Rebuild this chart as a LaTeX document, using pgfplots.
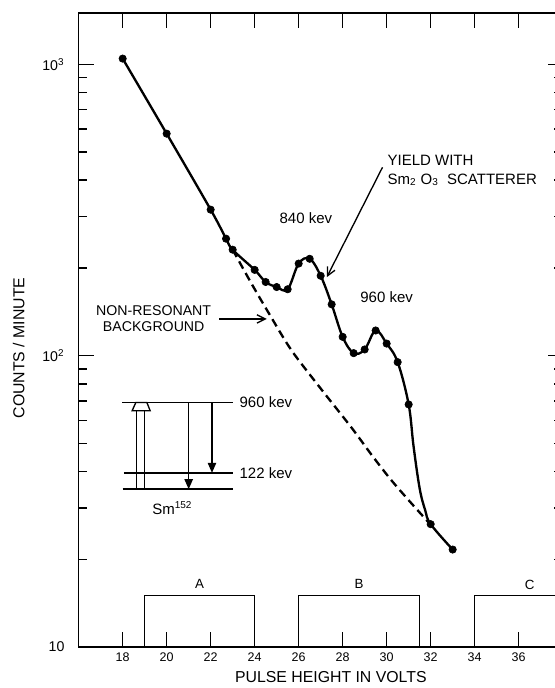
\documentclass[border=0pt]{standalone}
\usepackage{fontspec}
\setmainfont{Liberation Sans}
\usepackage{pgfplots}
\usepackage{pgfplotstable}
\pgfplotsset{compat=1.18}
\usetikzlibrary{arrows.meta}

% measured points (pulse height, counts/minute)
\pgfplotstableread{
x y
18 1046
20 578
22 317
22.7 252
23 231
24 197
24.5 179
25 172
25.5 169
26 207
26.5 215
27 188
27.5 150
28 116
28.5 102
29 105
29.5 122
30 110
30.5 95
31 68
32 26.4
33 21.6
}\yield

% drawn curve through the points (extra readings where it bends)
\pgfplotstableread{
x y
18 1046
20 578
22 317
22.7 252
23 231
24 197
24.5 179
25 172
25.5 169
26 207
26.5 215
27 188
27.5 150
28 116
28.5 102
29 105
29.5 122
30 110
30.5 95
31 68
31.22 49
31.5 35
31.75 29.5
32 26.4
33 21.6
}\yieldcurve

% non-resonant background (dashed)
\pgfplotstableread{
x y
23 231
23.87 176
24.64 140
25.67 104.4
27.02 76.8
28.38 56.9
29.32 45.6
30.17 37.7
31.08 31.4
31.94 26.6
}\background

\begin{document}
\begin{tikzpicture}
\begin{axis}[
    scale only axis,
    width=290.4pt, height=380.4pt,
    xmin=16, xmax=38,
    ymode=log, ymin=10, ymax=1500,
    axis line style={line width=1pt},
    tick align=inside,
    major tick length=9pt, minor tick length=5pt,
    every tick/.style={black, line width=0.9pt},
    xtick={18,20,...,36},
    ytick={10,100,1000},
    yticklabels={10, 10\textsuperscript{2}, 10\textsuperscript{3}},
    minor ytick={20,30,...,90,200,300,...,900},
    /pgf/number format/assume math mode=true,
    xticklabel style={font=\fontsize{7.5}{9}\selectfont},
    yticklabel style={font=\fontsize{8.5}{10}\selectfont, xshift=-5pt},
    xlabel={PULSE HEIGHT IN VOLTS},
    ylabel={COUNTS / MINUTE},
    xlabel style={at={(axis description cs:0.521,-0.0473)}, anchor=center,
        font=\fontsize{9.5}{11}\selectfont},
    ylabel style={at={(axis description cs:-0.124,0.4716)}, anchor=center,
        font=\fontsize{9.5}{11}\selectfont},
]
% windows A, B, C
\addplot[black, line width=0.9pt] coordinates {(19,10) (19,15) (24,15) (24,10)};
\addplot[black, line width=0.9pt] coordinates {(26,10) (26,15) (31.5,15) (31.5,10)};
\addplot[black, line width=0.9pt] coordinates {(34,10) (34,15) (40,15)};
\node[font=\fontsize{8}{9}\selectfont] at (axis cs:21.5,16.4) {A};
\node[font=\fontsize{8}{9}\selectfont] at (axis cs:28.75,16.4) {B};
\node[font=\fontsize{8}{9}\selectfont] at (axis cs:36.5,16.4) {C};

% background and yield
\addplot[black, line width=1.4pt, dash pattern=on 5pt off 3pt, smooth] table {\background};
\addplot[black, line width=1.4pt, smooth, tension=0.6] table {\yieldcurve};
\addplot[only marks, mark=*, mark size=2.2pt, black] table {\yield};

% annotations
\node[font=\fontsize{9}{10}\selectfont] at (axis cs:26.33,296) {840 kev};
\node[font=\fontsize{9}{10}\selectfont] at (axis cs:30.0,159) {960 kev};
\node[font=\fontsize{9}{11}\selectfont, align=left, anchor=west, inner sep=0pt]
    at (axis cs:30.03,431) {YIELD WITH\\Sm\textsubscript{2} O\textsubscript{3}\ \ SCATTERER};
\draw[line width=0.8pt, -{Straight Barb[length=5pt,width=5pt]}]
    (axis cs:29.81,443) -- (axis cs:27.28,186);
\node[font=\fontsize{8.5}{10}\selectfont, align=center, inner sep=0pt]
    at (axis cs:19.41,134) {NON-RESONANT\\BACKGROUND};
\draw[line width=0.8pt, -{Straight Barb[length=5pt,width=5pt]}]
    (axis cs:22.38,133.7) -- (axis cs:24.55,133.7);

% level scheme of Sm-152
\draw[line width=0.9pt] (axis cs:17.98,69.1) -- (axis cs:23.03,69.1);
\draw[line width=0.9pt] (axis cs:18.05,39.6) -- (axis cs:23.03,39.6);
\draw[line width=0.9pt] (axis cs:18.0,34.8) -- (axis cs:23.03,34.8);
\draw[line width=0.8pt] (axis cs:18.62,34.8) -- (axis cs:18.62,64.7);
\draw[line width=0.8pt] (axis cs:19.0,34.8) -- (axis cs:19.0,64.7);
\draw[line width=0.8pt, fill=white] (axis cs:18.43,64.7) -- (axis cs:18.6,69.1)
    -- (axis cs:19.1,69.1) -- (axis cs:19.25,64.7) -- cycle;
\draw[line width=0.8pt, -{Triangle[length=6pt,width=5pt]}]
    (axis cs:21.0,69.1) -- (axis cs:21.0,34.8);
\draw[line width=0.8pt, -{Triangle[length=6pt,width=5pt]}]
    (axis cs:22.06,69.1) -- (axis cs:22.06,39.6);
\node[font=\fontsize{9}{10}\selectfont, anchor=west, inner sep=0pt] at (axis cs:23.3,69.1) {960 kev};
\node[font=\fontsize{9}{10}\selectfont, anchor=west, inner sep=0pt] at (axis cs:23.3,39.6) {122 kev};
\node[font=\fontsize{9}{10}\selectfont] at (axis cs:20.26,30.0) {Sm\textsuperscript{152}};
\end{axis}
\pgfresetboundingbox
\path[use as bounding box] ([xshift=-47.2pt,yshift=-24.6pt]current axis.south west)
    rectangle ([xshift=-4.6pt,yshift=7.8pt]current axis.north east);
\end{tikzpicture}
\end{document}
